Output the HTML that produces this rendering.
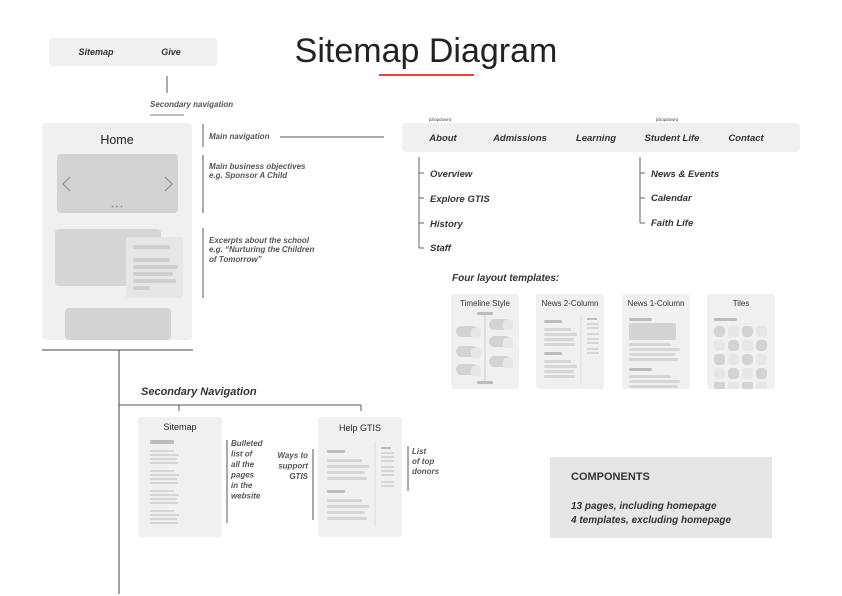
<!DOCTYPE html>
<html><head><meta charset="utf-8"><style>
html,body{margin:0;padding:0;background:#fff;}
svg{display:block;font-family:"Liberation Sans",sans-serif;}
.bi{font-weight:bold;font-style:italic;fill:#333;}
.an{font-weight:bold;font-style:italic;fill:#555;font-size:8px;}
</style></head><body>
<svg width="842" height="596" viewBox="0 0 842 596" xmlns="http://www.w3.org/2000/svg">
<!-- top secondary nav -->
<rect x="49" y="38" width="168" height="28" rx="4" fill="#f0f0f1"/>
<text x="96" y="55" class="bi" font-size="9" text-anchor="middle">Sitemap</text>
<text x="171" y="55" class="bi" font-size="9" text-anchor="middle">Give</text>
<line x1="167" y1="76" x2="167" y2="93" stroke="#555" stroke-width="1"/>
<text x="150" y="107" class="an">Secondary navigation</text>
<line x1="150" y1="115" x2="184" y2="115" stroke="#aaa" stroke-width="1.5"/>

<!-- title -->
<text x="426" y="62" font-size="34" fill="#222" text-anchor="middle">Sitemap Diagram</text>
<line x1="379" y1="75" x2="474" y2="75" stroke="#e4473e" stroke-width="2"/>

<!-- home card -->
<rect x="42" y="123" width="150" height="217" rx="4" fill="#f0f0f1"/>
<text x="117" y="144" font-size="12.5" fill="#222" text-anchor="middle">Home</text>
<rect x="57" y="154" width="121" height="59" rx="4" fill="#d3d3d5"/>
<polyline points="70,177 63,184 70,191" fill="none" stroke="#888" stroke-width="1"/>
<polyline points="165,177 172,184 165,191" fill="none" stroke="#888" stroke-width="1"/>
<text x="117" y="209" font-size="7" fill="#999" text-anchor="middle">• • •</text>
<rect x="55" y="229" width="106" height="57" rx="4" fill="#d5d5d7"/>
<rect x="126" y="237" width="57" height="61" rx="3" fill="#e6e6e8"/>
<g fill="#cfcfd1"><rect x="133" y="245" width="37" height="4" rx="2"/><rect x="133" y="258" width="37" height="4" rx="2"/><rect x="133" y="265" width="45" height="4" rx="2"/><rect x="133" y="272" width="40" height="4" rx="2"/><rect x="133" y="279" width="43" height="4" rx="2"/><rect x="133" y="286" width="17" height="4" rx="2"/></g>
<rect x="65" y="308" width="106" height="32" rx="4" fill="#d3d3d5"/>
<line x1="42" y1="350" x2="193" y2="350" stroke="#444" stroke-width="1"/>
<line x1="119" y1="350" x2="119" y2="594" stroke="#444" stroke-width="1"/>

<!-- home annotations -->
<g stroke="#555" stroke-width="1"><line x1="203" y1="124" x2="203" y2="147"/><line x1="203" y1="155" x2="203" y2="213"/><line x1="203" y1="228" x2="203" y2="298"/></g>
<text x="209" y="139" class="an">Main navigation</text>
<line x1="280" y1="137" x2="384" y2="137" stroke="#555"/>
<text x="209" y="169" class="an">Main business objectives</text>
<text x="209" y="178" class="an">e.g. Sponsor A Child</text>
<text x="209" y="243" class="an">Excerpts about the school</text>
<text x="209" y="252" class="an">e.g. “Nurturing the Children</text>
<text x="209" y="262" class="an">of Tomorrow”</text>

<!-- main nav -->
<text x="440" y="121" font-size="4.5" fill="#444" text-anchor="middle">(dropdown)</text>
<text x="667" y="121" font-size="4.5" fill="#444" text-anchor="middle">(dropdown)</text>
<rect x="402" y="123" width="398" height="29" rx="4" fill="#f0f0f1"/>
<g class="bi" font-size="9.5" text-anchor="middle"><text x="443" y="141">About</text><text x="520" y="141">Admissions</text><text x="596" y="141">Learning</text><text x="672" y="141">Student Life</text><text x="746" y="141">Contact</text></g>
<g stroke="#666" stroke-width="1"><line x1="419" y1="157" x2="419" y2="248"/><line x1="419" y1="173" x2="424" y2="173"/><line x1="419" y1="198" x2="424" y2="198"/><line x1="419" y1="223" x2="424" y2="223"/><line x1="419" y1="248" x2="424" y2="248"/>
<line x1="640" y1="157" x2="640" y2="223"/><line x1="640" y1="173" x2="645" y2="173"/><line x1="640" y1="198" x2="645" y2="198"/><line x1="640" y1="223" x2="645" y2="223"/></g>
<g class="bi" font-size="9.5"><text x="430" y="177">Overview</text><text x="430" y="202">Explore GTIS</text><text x="430" y="227">History</text><text x="430" y="251">Staff</text>
<text x="651" y="177">News &amp; Events</text><text x="651" y="201">Calendar</text><text x="651" y="226">Faith Life</text></g>

<!-- templates -->
<text x="452" y="281" class="bi" font-size="10">Four layout templates:</text>
<g fill="#f0f0f1"><rect x="451" y="294" width="68" height="95" rx="3"/><rect x="536" y="294" width="68" height="95" rx="3"/><rect x="622" y="294" width="68" height="95" rx="3"/><rect x="707" y="294" width="68" height="95" rx="3"/></g>
<g font-size="8" fill="#333" text-anchor="middle"><text x="485" y="306">Timeline Style</text><text x="570" y="306">News 2-Column</text><text x="656" y="306">News 1-Column</text><text x="741" y="306">Tiles</text></g>
<!-- timeline -->
<line x1="485" y1="314" x2="485" y2="382" stroke="#ccc"/>
<g fill="#bbb"><rect x="477" y="312" width="16" height="3" rx="1.5"/><rect x="477" y="381" width="16" height="3" rx="1.5"/></g>
<g fill="#d3d3d5"><rect x="456" y="326" width="22" height="11" rx="5.5"/><rect x="456" y="346" width="22" height="11" rx="5.5"/><rect x="456" y="364" width="22" height="11" rx="5.5"/><rect x="489" y="319" width="22" height="11" rx="5.5"/><rect x="489" y="336" width="22" height="11" rx="5.5"/><rect x="489" y="356" width="22" height="11" rx="5.5"/></g>
<g fill="#e6e6e8"><rect x="471" y="328" width="10" height="10" rx="3"/><rect x="471" y="348" width="10" height="10" rx="3"/><rect x="471" y="366" width="10" height="10" rx="3"/><rect x="503" y="320" width="10" height="10" rx="3"/><rect x="503" y="338" width="10" height="10" rx="3"/><rect x="503" y="358" width="10" height="10" rx="3"/></g>
<!-- news 2 col -->
<line x1="581" y1="317" x2="581" y2="385" stroke="#ddd"/>
<g fill="#bbb"><rect x="544" y="320" width="18" height="3" rx="1.5"/><rect x="544" y="352" width="18" height="3" rx="1.5"/><rect x="587" y="318" width="10" height="2"/></g>
<g fill="#d6d6d8"><rect x="544" y="328" width="27" height="3" rx="1.5"/><rect x="544" y="333" width="33" height="3" rx="1.5"/><rect x="544" y="338" width="30" height="3" rx="1.5"/><rect x="544" y="343" width="31" height="3" rx="1.5"/><rect x="544" y="360" width="27" height="3" rx="1.5"/><rect x="544" y="365" width="33" height="3" rx="1.5"/><rect x="544" y="370" width="30" height="3" rx="1.5"/><rect x="544" y="375" width="31" height="3" rx="1.5"/>
<rect x="587" y="323" width="12" height="2"/><rect x="587" y="327" width="12" height="2"/><rect x="587" y="333" width="12" height="2"/><rect x="587" y="338" width="12" height="2"/><rect x="587" y="342" width="12" height="2"/><rect x="587" y="348" width="12" height="2"/><rect x="587" y="352" width="12" height="2"/></g>
<!-- news 1 col -->
<g fill="#bbb"><rect x="629" y="318" width="23" height="3" rx="1.5"/><rect x="629" y="368" width="23" height="3" rx="1.5"/></g>
<rect x="629" y="323" width="47" height="17" rx="2" fill="#d3d3d5"/>
<g fill="#d6d6d8"><rect x="629" y="343" width="42" height="3" rx="1.5"/><rect x="629" y="348" width="51" height="3" rx="1.5"/><rect x="629" y="353" width="46" height="3" rx="1.5"/><rect x="629" y="358" width="49" height="3" rx="1.5"/><rect x="629" y="375" width="42" height="3" rx="1.5"/><rect x="629" y="380" width="51" height="3" rx="1.5"/><rect x="629" y="385" width="49" height="3" rx="1.5"/></g>
<!-- tiles -->
<rect x="714" y="318" width="23" height="3" rx="1.5" fill="#bbb"/>
<g>
<rect x="714" y="326" width="11" height="11" rx="4" fill="#d3d3d5"/><rect x="728" y="326" width="11" height="11" rx="4" fill="#e6e6e8"/><rect x="742" y="326" width="11" height="11" rx="4" fill="#d3d3d5"/><rect x="756" y="326" width="11" height="11" rx="4" fill="#e6e6e8"/>
<rect x="714" y="340" width="11" height="11" rx="4" fill="#e6e6e8"/><rect x="728" y="340" width="11" height="11" rx="4" fill="#d3d3d5"/><rect x="742" y="340" width="11" height="11" rx="4" fill="#e6e6e8"/><rect x="756" y="340" width="11" height="11" rx="4" fill="#d3d3d5"/>
<rect x="714" y="354" width="11" height="11" rx="4" fill="#d3d3d5"/><rect x="728" y="354" width="11" height="11" rx="4" fill="#e6e6e8"/><rect x="742" y="354" width="11" height="11" rx="4" fill="#d3d3d5"/><rect x="756" y="354" width="11" height="11" rx="4" fill="#e6e6e8"/>
<rect x="714" y="368" width="11" height="11" rx="4" fill="#e6e6e8"/><rect x="728" y="368" width="11" height="11" rx="4" fill="#d3d3d5"/><rect x="742" y="368" width="11" height="11" rx="4" fill="#e6e6e8"/><rect x="756" y="368" width="11" height="11" rx="4" fill="#d3d3d5"/>
<rect x="714" y="382" width="11" height="7" rx="2" fill="#d3d3d5"/><rect x="728" y="382" width="11" height="7" rx="2" fill="#e6e6e8"/><rect x="742" y="382" width="11" height="7" rx="2" fill="#d3d3d5"/><rect x="756" y="382" width="11" height="7" rx="2" fill="#e6e6e8"/>
</g>

<!-- secondary navigation -->
<text x="141" y="395" class="bi" font-size="11">Secondary Navigation</text>
<g stroke="#555" stroke-width="1"><line x1="119" y1="405" x2="361" y2="405"/><line x1="179" y1="405" x2="179" y2="411"/><line x1="361" y1="405" x2="361" y2="411"/></g>
<rect x="138" y="417" width="84" height="120" rx="3" fill="#f0f0f1"/>
<text x="180" y="430" font-size="9" fill="#222" text-anchor="middle">Sitemap</text>
<rect x="150" y="440" width="24" height="4" rx="1" fill="#bbb"/>
<g fill="#d6d6d8">
<rect x="150" y="450" width="24" height="2"/><rect x="150" y="454" width="29" height="2"/><rect x="150" y="458" width="27" height="2"/><rect x="150" y="462" width="28" height="2"/>
<rect x="150" y="470" width="24" height="2"/><rect x="150" y="474" width="29" height="2"/><rect x="150" y="478" width="27" height="2"/><rect x="150" y="482" width="28" height="2"/>
<rect x="150" y="490" width="24" height="2"/><rect x="150" y="494" width="29" height="2"/><rect x="150" y="498" width="27" height="2"/><rect x="150" y="502" width="28" height="2"/>
<rect x="150" y="510" width="24" height="2"/><rect x="150" y="514" width="29" height="2"/><rect x="150" y="518" width="27" height="2"/><rect x="150" y="522" width="28" height="2"/></g>
<line x1="227" y1="440" x2="227" y2="523" stroke="#555"/>
<g class="an"><text x="231" y="446">Bulleted</text><text x="231" y="456.5">list of</text><text x="231" y="467">all the</text><text x="231" y="477.5">pages</text><text x="231" y="488">in the</text><text x="231" y="498.5">website</text></g>

<rect x="318" y="417" width="84" height="120" rx="3" fill="#f0f0f1"/>
<text x="360" y="431" font-size="9" fill="#222" text-anchor="middle">Help GTIS</text>
<line x1="375" y1="441" x2="375" y2="527" stroke="#ddd"/>
<g fill="#bbb"><rect x="327" y="450" width="18" height="3" rx="1.5"/><rect x="327" y="490" width="18" height="3" rx="1.5"/><rect x="381" y="447" width="10" height="2"/></g>
<g fill="#d6d6d8"><rect x="327" y="459" width="35" height="3" rx="1.5"/><rect x="327" y="465" width="42" height="3" rx="1.5"/><rect x="327" y="471" width="38" height="3" rx="1.5"/><rect x="327" y="477" width="40" height="3" rx="1.5"/>
<rect x="327" y="499" width="35" height="3" rx="1.5"/><rect x="327" y="505" width="42" height="3" rx="1.5"/><rect x="327" y="511" width="38" height="3" rx="1.5"/><rect x="327" y="517" width="40" height="3" rx="1.5"/>
<rect x="381" y="452" width="13" height="2"/><rect x="381" y="456" width="13" height="2"/><rect x="381" y="460" width="13" height="2"/><rect x="381" y="466" width="13" height="2"/><rect x="381" y="470" width="13" height="2"/><rect x="381" y="474" width="13" height="2"/><rect x="381" y="481" width="13" height="2"/><rect x="381" y="485" width="13" height="2"/></g>
<line x1="313" y1="449" x2="313" y2="520" stroke="#555"/>
<g class="an" text-anchor="end"><text x="308" y="458">Ways to</text><text x="308" y="468.5">support</text><text x="308" y="479">GTIS</text></g>
<line x1="408" y1="446" x2="408" y2="491" stroke="#555"/>
<g class="an"><text x="412" y="454">List</text><text x="412" y="464">of top</text><text x="412" y="474">donors</text></g>

<!-- components -->
<rect x="550" y="457" width="222" height="81" fill="#e6e6e8"/>
<text x="571" y="480" font-size="11" font-weight="bold" fill="#333">COMPONENTS</text>
<text x="571" y="509" class="bi" font-size="10">13 pages, including homepage</text>
<text x="571" y="523" class="bi" font-size="10">4 templates, excluding homepage</text>
</svg>
</body></html>
